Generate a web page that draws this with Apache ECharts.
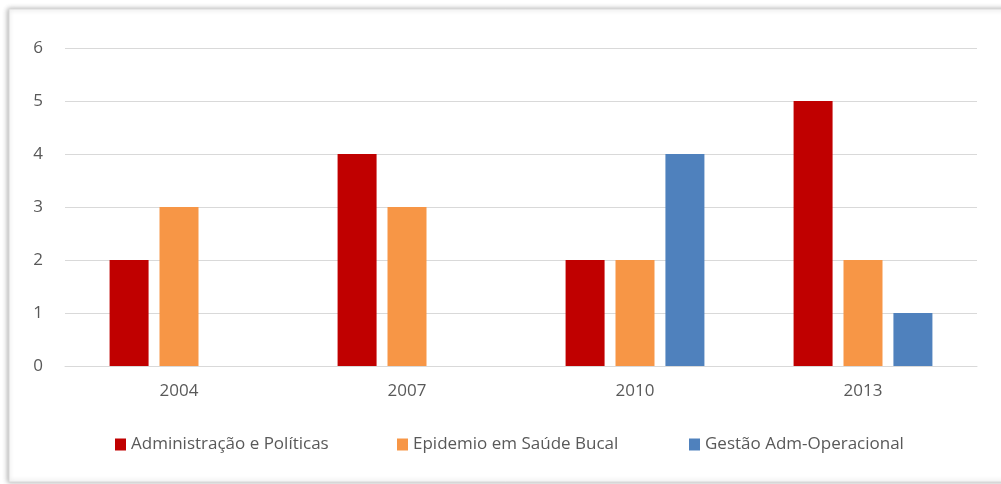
<!DOCTYPE html>
<html>
<head>
<meta charset="utf-8">
<script src="https://cdn.jsdelivr.net/npm/echarts@6/dist/echarts.min.js"></script>
<style>
  html, body { margin: 0; padding: 0; background: #ffffff; }
  #chart { width: 1001px; height: 484px; }
</style>
</head>
<body>
<div id="chart"></div>
<script>
// Anos avaliados
const years = ['2004', '2007', '2010', '2013'];

// Número de publicações por área e ano (null = sem publicações no ano)
const adminPoliticas = [2, 4, 2, 5];
const epidemioBucal = [3, 3, 2, 2];
const gestaoAdmOper = [null, null, 4, 1];

const seriesNames = ['Administração e Políticas', 'Epidemio em Saúde Bucal', 'Gestão Adm-Operacional'];
const seriesColors = ['#C00000', '#F79646', '#4F81BD'];
const seriesData = [adminPoliticas, epidemioBucal, gestaoAdmOper];

// Escala do eixo Y
const yMin = 0, yMax = 6, yStep = 1;

const FONT = '"Open Sans", "Liberation Sans", sans-serif';
const TEXT_COLOR = '#595959';

const chart = echarts.init(document.getElementById('chart'), null, { renderer: 'canvas' });

const legendLefts = [110, 392, 684];

chart.setOption({
  backgroundColor: '#ffffff',
  animation: false,
  graphic: [{
    type: 'rect',
    z: -10,
    shape: { x: 9, y: 9, width: 1010, height: 473 },
    style: {
      fill: '#ffffff',
      stroke: '#d9d9d9',
      lineWidth: 1,
      shadowColor: 'rgba(0,0,0,0.3)',
      shadowBlur: 5,
      shadowOffsetX: -1,
      shadowOffsetY: 0
    }
  }],
  legend: seriesNames.map((name, i) => ({
    data: [name],
    left: legendLefts[i],
    top: 431,
    itemWidth: 11,
    itemHeight: 12,
    itemGap: 6,
    icon: 'rect',
    textStyle: { fontFamily: FONT, fontSize: 17, color: TEXT_COLOR, padding: [0, 0, 0, 0] }
  })),
  grid: { left: 65, right: 24, top: 48, bottom: 118, containLabel: false },
  xAxis: {
    type: 'category',
    data: years,
    axisLine: { show: true, lineStyle: { color: '#d9d9d9', width: 1 } },
    axisTick: { show: false },
    axisLabel: { fontFamily: FONT, fontSize: 17, color: TEXT_COLOR, margin: 17 }
  },
  yAxis: {
    type: 'value',
    min: yMin,
    max: yMax,
    interval: yStep,
    axisLine: { show: false },
    axisTick: { show: false },
    splitLine: { lineStyle: { color: '#d9d9d9', width: 1 } },
    axisLabel: { fontFamily: FONT, fontSize: 17, color: TEXT_COLOR, margin: 22 }
  },
  series: seriesNames.map((name, i) => ({
    name: name,
    type: 'bar',
    data: seriesData[i],
    barWidth: 39,
    barGap: '28%',
    itemStyle: { color: seriesColors[i] }
  }))
});
</script>
</body>
</html>
